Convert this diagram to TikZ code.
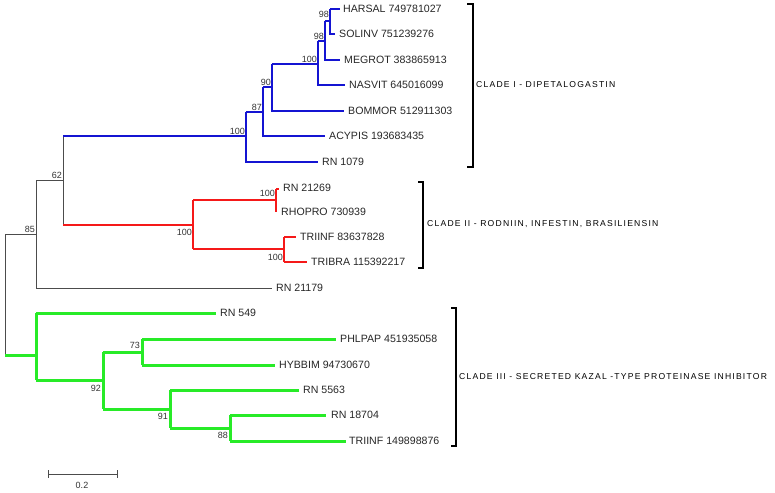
\documentclass[tikz,border=0pt]{standalone}
\usepackage{fontspec}
\setmainfont{Liberation Sans}
\newfontfamily\cladefont[LetterSpace=14]{Liberation Sans}
\tikzset{
 bl/.style={draw={rgb,255:red,20;green,20;blue,210},line width=2.2pt},
 rd/.style={draw={rgb,255:red,245;green,25;blue,25},line width=2.2pt},
 gr/.style={draw={rgb,255:red,40;green,235;blue,40},line width=3pt},
 gy/.style={draw=black!70,line width=0.7pt},
 leaf/.style={anchor=west,inner sep=0pt,font=\fontsize{10.6}{11}\selectfont,text=black!85},
 sup/.style={anchor=south east,inner sep=1pt,font=\fontsize{9}{9}\selectfont,text=black!80},
 supb/.style={anchor=north east,inner sep=1pt,font=\fontsize{9}{9}\selectfont,text=black!80},
 clade/.style={anchor=west,inner sep=0pt,font=\cladefont\fontsize{8.6}{9}\selectfont},
 brk/.style={draw=black,line width=1.1pt}
}
\begin{document}
\begin{tikzpicture}[x=1pt,y=-1pt]
\useasboundingbox (0,0) rectangle (775,492);
% root
\draw[gy] (5,234) -- (5,355);
\draw[gy] (5,234) -- (36,234);
\node[sup] (s85) at (36,234) {85};
\draw[gy] (36,180) -- (36,288) -- (272,288);
\node[leaf] (l21179) at (276,288) {RN 21179};
\draw[gy] (36,180) -- (63,180);
\node[sup] (s62) at (63,180) {62};
\draw[gy] (63,136) -- (63,225);
% blue clade
\draw[bl] (63,136) -- (246,136);
\node[sup] (s100a) at (246,136) {100};
\draw[bl] (246,112) -- (246,162) -- (318,162);
\node[leaf] (l1079) at (322,162) {RN 1079};
\draw[bl] (246,112) -- (263,112);
\node[sup] (s87) at (263,112) {87};
\draw[bl] (263,87) -- (263,136) -- (325,136);
\node[leaf] (lacy) at (329,136) {ACYPIS 193683435};
\draw[bl] (263,87) -- (272,87);
\node[sup] (s90) at (272,87) {90};
\draw[bl] (272,64) -- (272,111) -- (344,111);
\node[leaf] (lbom) at (348,111) {BOMMOR 512911303};
\draw[bl] (272,64) -- (318,64);
\node[sup] (s100b) at (318,64) {100};
\draw[bl] (318,41) -- (318,85) -- (345,85);
\node[leaf] (lnas) at (349,85) {NASVIT 645016099};
\draw[bl] (318,41) -- (325,41);
\node[sup] (s98a) at (325,41) {98};
\draw[bl] (325,21) -- (325,60) -- (340,60);
\node[leaf] (lmeg) at (344,60) {MEGROT 383865913};
\draw[bl] (325,21) -- (330,21);
\node[sup] (s98b) at (330,19) {98};
\draw[bl] (330,9) -- (330,34) -- (335,34);
\draw[bl] (330,9) -- (340,9);
\node[leaf] (lhar) at (343,9) {HARSAL 749781027};
\node[leaf] (lsol) at (339,34) {SOLINV 751239276};
% red clade
\draw[rd] (63,225) -- (193,225);
\node[supb] (s100c) at (193,228) {100};
\draw[rd] (193,200) -- (193,249);
\draw[rd] (193,200) -- (276,200);
\node[sup] (s100d) at (276,198) {100};
\draw[rd] (276,189) -- (276,212);
\draw[rd] (276,189) -- (279,189);
\node[leaf] (l21269) at (283,188) {RN 21269};
\node[leaf] (lrho) at (281,212) {RHOPRO 730939};
\draw[rd] (193,249) -- (284,249);
\node[supb] (s100e) at (284,253) {100};
\draw[rd] (284,237) -- (284,262);
\draw[rd] (284,237) -- (296,237);
\draw[rd] (284,262) -- (307,262);
\node[leaf] (ltri) at (300,237) {TRIINF 83637828};
\node[leaf] (ltbr) at (311,262) {TRIBRA 115392217};
% green clade
\draw[gr] (5,355) -- (36,355);
\draw[gr] (36,313) -- (36,380);
\draw[gr] (36,313) -- (216,313);
\node[leaf] (l549) at (220,313) {RN 549};
\draw[gr] (36,380) -- (103,380);
\draw[gr] (103,352) -- (103,409);
\node[supb] (s92) at (102,384) {92};
\draw[gr] (103,352) -- (142,352);
\node[sup] (s73) at (141,350) {73};
\draw[gr] (142,339) -- (142,365);
\draw[gr] (142,339) -- (336,339);
\node[leaf] (lphl) at (340,339) {PHLPAP 451935058};
\draw[gr] (142,365) -- (275,365);
\node[leaf] (lhyb) at (279,365) {HYBBIM 94730670};
\draw[gr] (103,409) -- (170,409);
\node[supb] (s91) at (169,412) {91};
\draw[gr] (170,390) -- (170,428);
\draw[gr] (170,390) -- (299,390);
\node[leaf] (l5563) at (303,390) {RN 5563};
\draw[gr] (170,428) -- (230,428);
\node[supb] (s88) at (229,431) {88};
\draw[gr] (230,415) -- (230,441);
\draw[gr] (230,415) -- (326,415);
\node[leaf] (l18704) at (331,415) {RN 18704};
\draw[gr] (230,441) -- (346,441);
\node[leaf] (ltri2) at (349,441) {TRIINF 149898876};
% brackets
\draw[brk] (467,4) -- (473,4) -- (473,167) -- (467,167);
\node[clade] (c1) at (476,85) {CLADE I - DIPETALOGASTIN};
\draw[brk] (418,182) -- (423,182) -- (423,268) -- (418,268);
\node[clade] (c2) at (427,224) {CLADE II - RODNIIN, INFESTIN, BRASILIENSIN};
\draw[brk] (451,308) -- (456,308) -- (456,446) -- (451,446);
\node[clade] (c3) at (459,377) {CLADE III - SECRETED KAZAL -TYPE PROTEINASE INHIBITOR};
% scale
\draw[gy] (48,470) -- (48,478);
\draw[gy] (117,470) -- (117,478);
\draw[gy] (48,474) -- (117,474);
\node[font=\fontsize{9}{9}\selectfont,text=black!80] (sc) at (82,485) {0.2};
\end{tikzpicture}
\end{document}
